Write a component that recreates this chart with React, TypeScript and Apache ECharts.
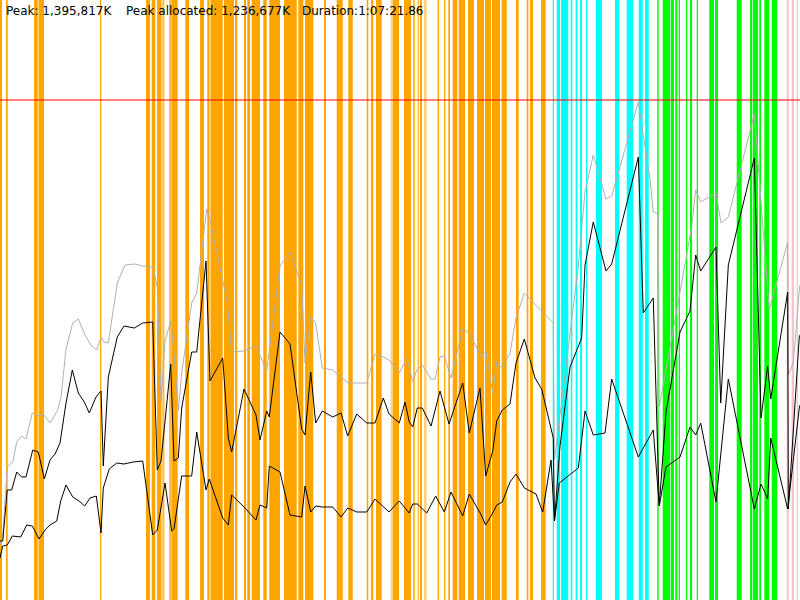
import React, { useEffect, useRef } from "react";
import * as echarts from "echarts";

// x: elapsed time in % of the run (Duration 1:07:21.86), y: memory in % of the peak (1,395,817K)
const totalMemory: [number, number][] = [
  [0, 11], [0.34, 13], [0.91, 26.6], [1.59, 27.6], [2.09, 31.6], [2.71, 32.8], [3.25, 32.2], [4.04, 37.4],
  [4.79, 36.8], [5.5, 37], [6.25, 35.4], [7.16, 37.8], [7.63, 40.6], [8.25, 50.2], [9.09, 55.4], [9.79, 56.2],
  [10.63, 53], [11.34, 51], [12.09, 50], [12.63, 52.6], [13, 51.6], [13.54, 51.4], [14.66, 63.4], [15.63, 67],
  [16.79, 67.2], [17.84, 66.8], [19.09, 66.6], [19.66, 62.6], [20.13, 39.8], [20.63, 51.8], [21.34, 55.8],
  [21.75, 49.4], [22.29, 37.8], [22.71, 45.4], [23.96, 59.4], [24.59, 61.4], [25.84, 78.2], [26.25, 76],
  [28.41, 59.6], [28.96, 49.6], [30.5, 49.8], [32, 50.8], [33.34, 45.8], [35, 66.8], [36.25, 69.6], [37.71, 63],
  [38.13, 47.4], [38.84, 56.6], [39.46, 55.4], [40.29, 46.4], [41.59, 46], [43.54, 43.4], [44.59, 43.4],
  [45.84, 43.4], [46.88, 49.2], [47.91, 48.6], [48.63, 48], [49.91, 45.4], [50.84, 48.4], [51.59, 43.6],
  [52.09, 46], [52.79, 47], [53.88, 44.2], [54.38, 44.2], [55, 48.6], [55.54, 48.8], [56.38, 44.4], [57.84, 54.2],
  [58.66, 53.4], [60.09, 48.8], [60.75, 49.6], [61.59, 41.4], [62.09, 47.6], [62.79, 46.4], [63.75, 49.4],
  [64.5, 56.4], [65.54, 61.4], [69.16, 55.4], [69.31, 28], [72.29, 66.8], [73.13, 81.6], [74.16, 89], [75.75, 80.2],
  [76.46, 80.8], [79.79, 99.6], [80.41, 93], [81.25, 84.2], [81.66, 77.6], [82.29, 77.2], [82.41, 38.6],
  [86.46, 74.6], [86.96, 82], [87.59, 79.6], [89.5, 81.4], [90.13, 75.4], [91.04, 76.6], [94.29, 97.2],
  [96.16, 58], [98.46, 71.6], [98.54, 45], [99.16, 47.4], [99.91, 62], [100, 63],
];

const allocatedMemory: [number, number][] = [
  [0, 11.8], [0.34, 11.8], [0.91, 22], [1.46, 22], [2.09, 25.6], [2.71, 24.6], [3.25, 24.6], [4.09, 30],
  [4.79, 29.6], [5.54, 24.2], [6.25, 28], [6.88, 29.2], [7.5, 31.4], [8.25, 39.4], [9.04, 46], [9.79, 41.4],
  [10.54, 39.6], [11.16, 37.4], [12, 40.6], [12.63, 41.8], [12.91, 26.8], [13.54, 44.6], [14.66, 52.6],
  [15.5, 54.8], [16.79, 54.4], [17.84, 55.4], [19.09, 55.6], [19.66, 26], [20.13, 27.8], [21.34, 47.2],
  [21.75, 27.8], [22.29, 28.4], [22.71, 38.4], [23.96, 49.6], [24.59, 49.6], [25.75, 67.8], [26.25, 43.8],
  [27.84, 48.4], [28.54, 32.4], [28.96, 29.6], [30.5, 42.2], [32, 37], [32.5, 32], [33.34, 37.8], [33.66, 36.6],
  [35, 53.6], [36.25, 51.2], [37.71, 34.2], [38.13, 33], [38.84, 45.6], [39.46, 35.4], [40.29, 37.8],
  [41.59, 36.6], [42.63, 37.4], [43.46, 32.8], [44.59, 37.2], [45.84, 35.4], [46.88, 35.4], [47.91, 40.4],
  [48.63, 37.2], [49.91, 35.4], [50.63, 39.6], [51.16, 35.6], [51.59, 34.6], [52.16, 38.4], [52.79, 38.4],
  [53.88, 34.8], [55, 41.8], [56.13, 35.2], [57.84, 43.4], [58.66, 33.4], [60, 42.4], [60.71, 24.8],
  [61.59, 29.8], [62.09, 35.8], [62.79, 38], [63.75, 39.2], [64.5, 47.4], [65.54, 52.2], [66.88, 44.4],
  [67.71, 42.2], [69.16, 32.4], [69.31, 15.8], [70, 30.8], [71.25, 46.6], [72.71, 52.4], [73.13, 67],
  [74.16, 75.6], [75.75, 65.8], [76.46, 67.2], [79.79, 88.6], [80.41, 57.4], [81.66, 60.4], [82.41, 18.8],
  [83.25, 37.6], [85, 53.6], [86.25, 57.8], [86.96, 69], [87.59, 65.8], [89.5, 70.6], [90.09, 39.4], [91.04, 67],
  [94.29, 88.4], [95.13, 36.4], [95.96, 46.8], [96.34, 40.2], [98.46, 61.6], [98.54, 18.2], [99.91, 52.6],
  [100, 53],
];

const usedMemory: [number, number][] = [
  [0, 8.4], [0.34, 10.8], [0.91, 11], [1.54, 12.8], [2.59, 12.6], [3.34, 15], [4.04, 14.8], [4.88, 12.2],
  [5.63, 14], [6.25, 15], [7.09, 15.8], [7.59, 19.8], [8.25, 23], [9.09, 20.6], [9.88, 19.8], [10.59, 18.8],
  [11.25, 20.4], [12.04, 20.8], [12.63, 13.4], [12.91, 22.4], [13.66, 26.2], [14.59, 27.4], [15.5, 27.2],
  [16.66, 27.6], [17.84, 27.8], [19.09, 13], [19.66, 14], [20.63, 23.4], [21.46, 13.8], [21.75, 14.2],
  [22.71, 24.8], [23.96, 24.8], [24.59, 33.6], [25.75, 22], [26.16, 24.2], [27.84, 16.4], [28.54, 15],
  [28.96, 21], [30.5, 18.6], [32, 16], [32.5, 19], [33.34, 18.4], [33.66, 26.8], [35, 25.6], [36.25, 17],
  [37.71, 16.6], [38.13, 22.8], [38.84, 17.6], [39.46, 18.8], [40.29, 18.6], [41.59, 18.6], [42.63, 16.6],
  [43.46, 18.4], [44.59, 17.6], [45.84, 17.6], [46.88, 20.2], [48.63, 17.6], [49.91, 19.8], [51.16, 17.4],
  [51.59, 19.2], [52.16, 19.2], [53.34, 17.4], [54.46, 20.8], [55.54, 17.6], [56.38, 21.6], [57.84, 16.8],
  [58.66, 21.2], [60.09, 17.2], [60.71, 15], [61.59, 17.4], [62.09, 19], [62.79, 19.6], [63.75, 23.6],
  [64.5, 25.2], [65.54, 22.4], [67, 21.2], [67.84, 17.6], [68.88, 28], [69.31, 15.8], [69.91, 23.4],
  [72.29, 26.4], [73.13, 37.8], [74.16, 33], [75.63, 33.4], [76.46, 44.2], [79.79, 28.6], [81.66, 34],
  [82.41, 18.8], [83.25, 26.6], [85, 28.6], [86.25, 34.6], [86.96, 33], [87.59, 35.4], [89.5, 19.6],
  [91.04, 44.2], [94.29, 18.2], [95.13, 23.2], [95.96, 20.2], [96.34, 32.4], [98.46, 18.2], [99.91, 38.4],
  [100, 39],
];

// phase spans [start %, end %]
const orangeSpans: [number, number][] = [
  [0, 0.25], [0.75, 0.96], [4.25, 4.71], [4.88, 5.5], [12.5, 12.66], [18.25, 18.75], [18.96, 19.41],
  [19.63, 20.13], [20.41, 20.54], [21.16, 21.34], [21.41, 22.21], [23.16, 23.63], [25, 25.5], [25.91, 26.16],
  [26.34, 27.84], [28, 29.25], [29.38, 29.66], [30.5, 30.75], [30.91, 31.25], [31.46, 32.5], [32.91, 33.34],
  [33.66, 35], [35.5, 37.09], [37.29, 37.91], [38.13, 39.16], [40.5, 40.75], [42.09, 42.84], [43.54, 44.09],
  [45.84, 46.04], [46.38, 46.66], [47, 47.71], [49.13, 49.88], [50.5, 51.38], [51.66, 51.84], [52.21, 52.34],
  [52.5, 52.75], [54.71, 54.88], [55.5, 55.66], [56.04, 56.25], [56.59, 57.16], [57.34, 58.13], [58.5, 59.25],
  [59.63, 60.5], [60.63, 61.38], [61.5, 62.5], [62.71, 63.34], [64.5, 64.84], [65.84, 66.04], [66.25, 66.63],
  [67.63, 68.21],
];
const orangeLightSpans: [number, number][] = [
  [4.71, 4.88], [20.13, 20.41], [26.16, 26.34], [48.84, 49.13], [53, 53.34],
];
const cyanSpans: [number, number][] = [
  [69.09, 69.25], [69.59, 70], [70.13, 71.04], [71.34, 71.54], [71.96, 72.16], [72.5, 72.75], [73.25, 73.41],
  [74.5, 75.25], [76.88, 77.41], [78.34, 79.16], [79.84, 80.34], [80.63, 81.09],
];
const greenSpans: [number, number][] = [
  [82.16, 82.34], [82.84, 83.75], [83.84, 84.25], [84.41, 84.66], [84.84, 85], [85.75, 85.91], [86.25, 86.5],
  [87.09, 87.25], [88.66, 89.25], [89.38, 89.75], [92.09, 92.71], [93.75, 94], [94.09, 94.75], [94.91, 95.13],
  [95.54, 96.16], [96.46, 97.16],
];
const pinkSpans: [number, number][] = [[98.34, 98.59], [98.96, 99.25], [99.59, 99.75]];

const peakLevel = 100;
const headerTexts = ["Peak: 1,395,817K", "Peak allocated: 1,236,677K", "Duration:1:07:21.86"];
const headerX = [6, 126, 302];

function spanSeries(name: string, data: [number, number][], color: string, opacity: number) {
  return {
    type: "custom",
    name,
    silent: true,
    z: 1,
    data,
    encode: { x: [0, 1] },
    renderItem: (params: any, api: any) => {
      const p0 = api.coord([api.value(0), 0]);
      const p1 = api.coord([api.value(1), 0]);
      const cs = params.coordSys;
      return {
        type: "rect",
        shape: { x: p0[0], y: cs.y, width: Math.max(p1[0] - p0[0], 1), height: cs.height },
        style: { fill: color, opacity },
      };
    },
  };
}

function lineSeries(name: string, data: [number, number][], color: string) {
  return {
    type: "line",
    name,
    data,
    showSymbol: false,
    symbol: "none",
    silent: true,
    z: 3,
    lineStyle: { color, width: 1 },
  };
}

export default function App() {
  const ref = useRef<HTMLDivElement>(null);
  useEffect(() => {
    if (!ref.current) return;
    const chart = echarts.init(ref.current, undefined, { renderer: "svg" });
    chart.setOption({
      animation: false,
      backgroundColor: "#ffffff",
      grid: { left: 0, right: 0, top: 0, bottom: 0 },
      xAxis: { type: "value", min: 0, max: 100, show: false },
      yAxis: { type: "value", min: 0, max: 120, show: false },
      graphic: headerTexts.map((t, i) => ({
        type: "text",
        x: headerX[i],
        y: 5,
        z: 100,
        silent: true,
        style: {
          text: t,
          fill: "#000000",
          fontSize: 12,
          fontFamily: "DejaVu Sans",
          verticalAlign: "top",
        },
      })),
      series: [
        spanSeries("orange", orangeSpans, "#FFA500", 1),
        spanSeries("orangeLight", orangeLightSpans, "#FFA500", 0.5),
        spanSeries("cyan", cyanSpans, "#00FFFF", 1),
        spanSeries("green", greenSpans, "#00FF00", 1),
        spanSeries("pink", pinkSpans, "#FFC0CB", 1),
        {
          type: "line",
          name: "peak",
          data: [[0, peakLevel], [100, peakLevel]],
          showSymbol: false,
          symbol: "none",
          silent: true,
          z: 2,
          lineStyle: { color: "rgba(255,0,0,0.5)", width: 2 },
        },
        lineSeries("total", totalMemory, "#b0b0b0"),
        lineSeries("allocated", allocatedMemory, "#000000"),
        lineSeries("used", usedMemory, "#000000"),
      ],
    });
    return () => chart.dispose();
  }, []);
  return (
    <div
      ref={ref}
      style={{ position: "fixed", left: 0, top: 0, width: 800, height: 600, background: "#fff" }}
    />
  );
}
